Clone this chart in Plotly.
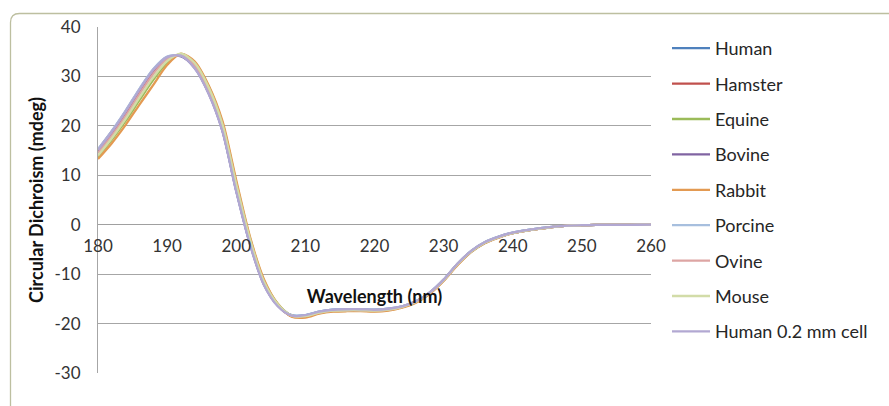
import plotly.graph_objects as go

wavelength = list(range(180, 262, 2))

human = [15.0, 18.7, 22.8, 27.2, 31.2, 33.8, 34.1, 31.8, 26.8, 19.2, 7.0, -3.8, -12.0, -16.3, -18.3, -18.3, -17.6, -17.2, -17.1, -17.1, -17.2, -17.0, -16.5, -15.5, -13.7, -11.1, -7.9, -5.3, -3.5, -2.4, -1.6, -1.1, -0.7, -0.4, -0.2, -0.1, -0.05, -0.03, -0.02, -0.01, 0.0]
hamster = [14.6, 18.3, 22.4, 26.8, 30.9, 33.7, 34.2, 32.0, 27.0, 19.5, 7.3, -3.6, -11.9, -16.3, -18.5, -18.5, -17.8, -17.4, -17.3, -17.3, -17.4, -17.2, -16.6, -15.6, -13.8, -11.2, -8.0, -5.4, -3.6, -2.5, -1.7, -1.2, -0.8, -0.45, -0.2, -0.1, -0.05, -0.03, -0.02, -0.01, 0.0]
equine = [13.8, 17.2, 21.0, 25.2, 29.3, 32.8, 34.5, 32.8, 28.0, 20.6, 8.5, -2.8, -11.3, -16.0, -18.4, -18.6, -17.9, -17.5, -17.4, -17.4, -17.5, -17.3, -16.7, -15.7, -13.9, -11.3, -8.1, -5.5, -3.7, -2.5, -1.7, -1.2, -0.8, -0.45, -0.2, -0.1, -0.05, -0.03, -0.02, -0.01, 0.0]
bovine = [15.2, 18.9, 23.0, 27.4, 31.4, 33.9, 34.1, 31.7, 26.6, 19.0, 6.8, -4.0, -12.1, -16.4, -18.4, -18.4, -17.7, -17.3, -17.2, -17.2, -17.3, -17.1, -16.6, -15.6, -13.8, -11.2, -8.0, -5.4, -3.6, -2.5, -1.7, -1.2, -0.8, -0.45, -0.2, -0.1, -0.05, -0.03, -0.02, -0.01, 0.0]
rabbit = [13.3, 16.5, 20.2, 24.3, 28.3, 32.3, 34.6, 33.0, 28.2, 21.0, 9.0, -2.5, -11.0, -16.0, -18.6, -18.8, -18.0, -17.6, -17.5, -17.5, -17.6, -17.4, -16.8, -15.8, -14.0, -11.4, -8.2, -5.5, -3.7, -2.6, -1.7, -1.2, -0.8, -0.45, -0.2, -0.1, -0.05, -0.03, -0.02, -0.01, 0.0]
porcine = [15.3, 19.0, 23.1, 27.5, 31.5, 34.0, 34.2, 31.8, 26.7, 19.1, 6.9, -3.9, -12.0, -16.3, -18.3, -18.3, -17.6, -17.2, -17.1, -17.1, -17.2, -17.0, -16.5, -15.5, -13.7, -11.1, -7.9, -5.3, -3.5, -2.4, -1.6, -1.1, -0.7, -0.4, -0.2, -0.1, -0.05, -0.03, -0.02, -0.01, 0.0]
ovine = [14.5, 18.0, 22.0, 26.4, 30.5, 33.5, 34.3, 32.2, 27.3, 19.8, 7.6, -3.4, -11.8, -16.2, -18.4, -18.5, -17.8, -17.4, -17.3, -17.3, -17.4, -17.2, -16.6, -15.6, -13.8, -11.2, -8.0, -5.4, -3.6, -2.5, -1.7, -1.2, -0.8, -0.45, -0.2, -0.1, -0.05, -0.03, -0.02, -0.01, 0.0]
mouse = [14.0, 17.5, 21.4, 25.7, 29.8, 33.1, 34.6, 32.7, 27.8, 20.3, 8.2, -3.0, -11.5, -16.1, -18.4, -18.5, -17.8, -17.4, -17.3, -17.3, -17.4, -17.2, -16.6, -15.6, -13.8, -11.2, -8.0, -5.4, -3.6, -2.5, -1.7, -1.2, -0.8, -0.45, -0.2, -0.1, -0.05, -0.03, -0.02, -0.01, 0.0]
human_02mm = [15.1, 18.8, 22.9, 27.3, 31.3, 33.9, 34.2, 31.6, 26.5, 18.9, 6.7, -4.1, -12.2, -16.5, -18.4, -18.3, -17.6, -17.2, -17.1, -17.1, -17.2, -17.0, -16.5, -15.5, -13.7, -11.1, -7.9, -5.3, -3.5, -2.4, -1.6, -1.1, -0.7, -0.4, -0.2, -0.1, -0.05, -0.03, -0.02, -0.01, 0.0]

series_names = ["Human", "Hamster", "Equine", "Bovine", "Rabbit", "Porcine", "Ovine", "Mouse", "Human 0.2 mm cell"]
series_values = [human, hamster, equine, bovine, rabbit, porcine, ovine, mouse, human_02mm]
series_colors = ["#4F81BD", "#C0504D", "#9BBB59", "#8064A2", "#E39A52", "#A7BFDE", "#DDA5A3", "#D2DCA8", "#B2A8D2"]

y_ticks = [-30, -20, -10, 0, 10, 20, 30, 40]
x_ticks = [180, 190, 200, 210, 220, 230, 240, 250, 260]

W, H = 889, 406
L, R, T, B = 98, 651, 27, 373

fig = go.Figure()
for i, (name, vals, col) in enumerate(zip(series_names, series_values, series_colors)):
    fig.add_trace(go.Scatter(
        x=wavelength, y=vals, name=name, mode="lines",
        line=dict(color=col, width=2.3, shape="spline", smoothing=0.8),
        legendgroup=f"g{i}", hoverinfo="skip",
    ))

def px_x(p):
    return (p - L) / (R - L)

def px_y(p):
    return (B - p) / (B - T)

# outer chart frame (rounded corner, cropped at right and bottom)
lx, ty, rr = 10.5, 13.5, 9
path = (f"M {px_x(lx)},{px_y(420)} L {px_x(lx)},{px_y(ty + rr)} "
        f"Q {px_x(lx)},{px_y(ty)} {px_x(lx + rr)},{px_y(ty)} L {px_x(900)},{px_y(ty)}")
fig.add_shape(type="path", path=path, xref="paper", yref="paper",
              line=dict(color="#BDBFA0", width=1.3))

font_family = "Lato, 'Open Sans', sans-serif"
fig.update_layout(
    width=W, height=H,
    margin=dict(l=L, r=W - R, t=T, b=H - B, pad=0, autoexpand=False),
    paper_bgcolor="white", plot_bgcolor="white",
    font=dict(family=font_family, color="#333333", size=17),
    showlegend=True,
    legend=dict(
        x=px_x(667), y=px_y(30), xanchor="left", yanchor="top",
        font=dict(size=18, color="#262626"),
        tracegroupgap=9, itemwidth=38, bgcolor="rgba(0,0,0,0)",
    ),
    xaxis=dict(
        range=[180, 260], tickvals=x_ticks, ticktext=[str(v) for v in x_ticks],
        showgrid=False, zeroline=False, showline=False, automargin=False,
        anchor="free", position=30 / 70, ticks="", ticklabelstandoff=9,
        tickfont=dict(size=17, color="#333333"),
        title=dict(text="<b>Wavelength (nm)</b>", font=dict(size=18, color="#111111"), standoff=35),
    ),
    yaxis=dict(
        range=[-30, 40], tickvals=y_ticks, ticktext=[str(v) for v in y_ticks],
        showgrid=True, gridcolor="#A6A6A6", gridwidth=1, automargin=False,
        zeroline=True, zerolinecolor="#A0A0A0", zerolinewidth=1,
        showline=True, linecolor="#A6A6A6", linewidth=1, ticks="", ticklabelstandoff=13,
        tickfont=dict(size=17, color="#333333"),
        title=dict(text="<b>Circular Dichroism (mdeg)</b>", font=dict(size=18, color="#111111"), standoff=6),
    ),
)

fig.write_html("out.html", config={"displayModeBar": False},
               post_script="document.body.style.margin='0';document.body.style.padding='0';")
